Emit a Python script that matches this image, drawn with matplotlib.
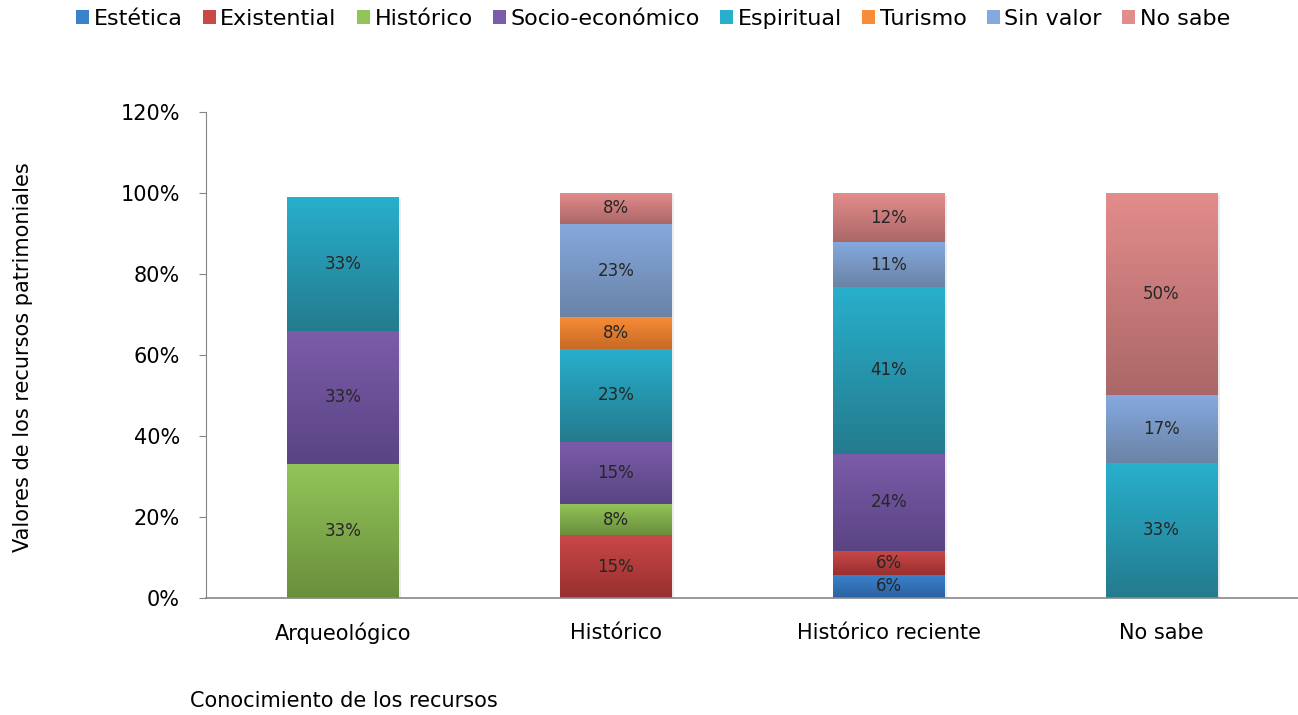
import numpy as np
import matplotlib.pyplot as plt
from matplotlib.colors import LinearSegmentedColormap
from matplotlib.patches import Patch

plt.rcParams['font.family'] = ['DejaVu Sans']

categories = ['Arqueológico', 'Histórico', 'Histórico reciente', 'No sabe']
series = ['Estética', 'Existential', 'Histórico', 'Socio-económico',
          'Espiritual', 'Turismo', 'Sin valor', 'No sabe']
# percentages per series, one value per category
values = {
    'Estética':        [0, 0, 5.7, 0],
    'Existential':     [0, 15.4, 5.9, 0],
    'Histórico':       [33, 7.7, 0, 0],
    'Socio-económico': [33, 15.4, 24.0, 0],
    'Espiritual':      [33, 23.1, 41.2, 33.3],
    'Turismo':         [0, 7.7, 0, 0],
    'Sin valor':       [0, 23.1, 11.1, 16.7],
    'No sabe':         [0, 7.7, 12.1, 50.0],
}
# (top colour, bottom colour) for the gradient
colors = {
    'Estética':        ('#3b82cc', '#2a62a0'),
    'Existential':     ('#c94848', '#992f2f'),
    'Histórico':       ('#92c45a', '#6a8f3b'),
    'Socio-económico': ('#7b5caa', '#5a4483'),
    'Espiritual':      ('#28afcc', '#247b8e'),
    'Turismo':         ('#f88c37', '#c66a26'),
    'Sin valor':       ('#85a9de', '#6a83a6'),
    'No sabe':         ('#e38c8c', '#ab6767'),
}

fig = plt.figure(figsize=(12.98, 7.15), dpi=100)
ax = fig.add_axes([0.159, 0.164, 0.841, 0.679])

x = np.arange(len(categories))
w = 0.41
bottom = np.zeros(len(categories))
grad = np.linspace(1, 0, 100).reshape(-1, 1)
for s in series:
    v = np.array(values[s])
    bars = ax.bar(x, v, w, bottom=bottom, color='none', edgecolor='none', zorder=2)
    cmap = LinearSegmentedColormap.from_list(s, [colors[s][1], colors[s][0]])
    for b, val, b0, xi in zip(bars, v, bottom, x):
        if val <= 0:
            continue
        # soft shadow
        ax.bar(xi + 0.008, val, w, bottom=b0 - 0.4, color='#000000', alpha=0.08,
               edgecolor='none', zorder=1)
        im = ax.imshow(grad, cmap=cmap, aspect='auto', zorder=2,
                       extent=[xi - w / 2, xi + w / 2, b0, b0 + val])
        im.set_clip_path(b)
        ax.text(xi, b0 + val / 2, '%d%%' % round(val), ha='center', va='center',
                fontsize=12, color='#262626', zorder=3)
    bottom += v

ax.set_xlim(-0.5, 3.5)
ax.set_ylim(0, 120)
ax.set_xticks(x)
ax.set_xticklabels(categories, fontsize=15)
ax.set_yticks(np.arange(0, 121, 20))
ax.set_yticklabels(['%d%%' % t for t in range(0, 121, 20)], fontsize=15)
ax.tick_params(axis='x', length=0, pad=18)
ax.tick_params(axis='y', length=5, color='#868686', pad=14)
for sp in ['top', 'right']:
    ax.spines[sp].set_visible(False)
ax.spines['left'].set_color('#868686')
ax.spines['bottom'].set_color('#868686')
ax.spines['bottom'].set_linewidth(1.2)

fig.text(0.018, 0.5, 'Valores de los recursos patrimoniales', rotation=90,
         ha='center', va='center', fontsize=15)
fig.text(0.146, 0.02, 'Conocimiento de los recursos', ha='left', va='center',
         fontsize=15)

handles = [Patch(facecolor=colors[s][0], edgecolor='none') for s in series]
fig.legend(handles, series, loc='upper center', bbox_to_anchor=(0.503, 1.015),
           ncol=8, frameon=False, fontsize=16, handlelength=0.6, handleheight=0.6,
           handletextpad=0.2, columnspacing=0.9)

fig.savefig('out.png', dpi=100)
